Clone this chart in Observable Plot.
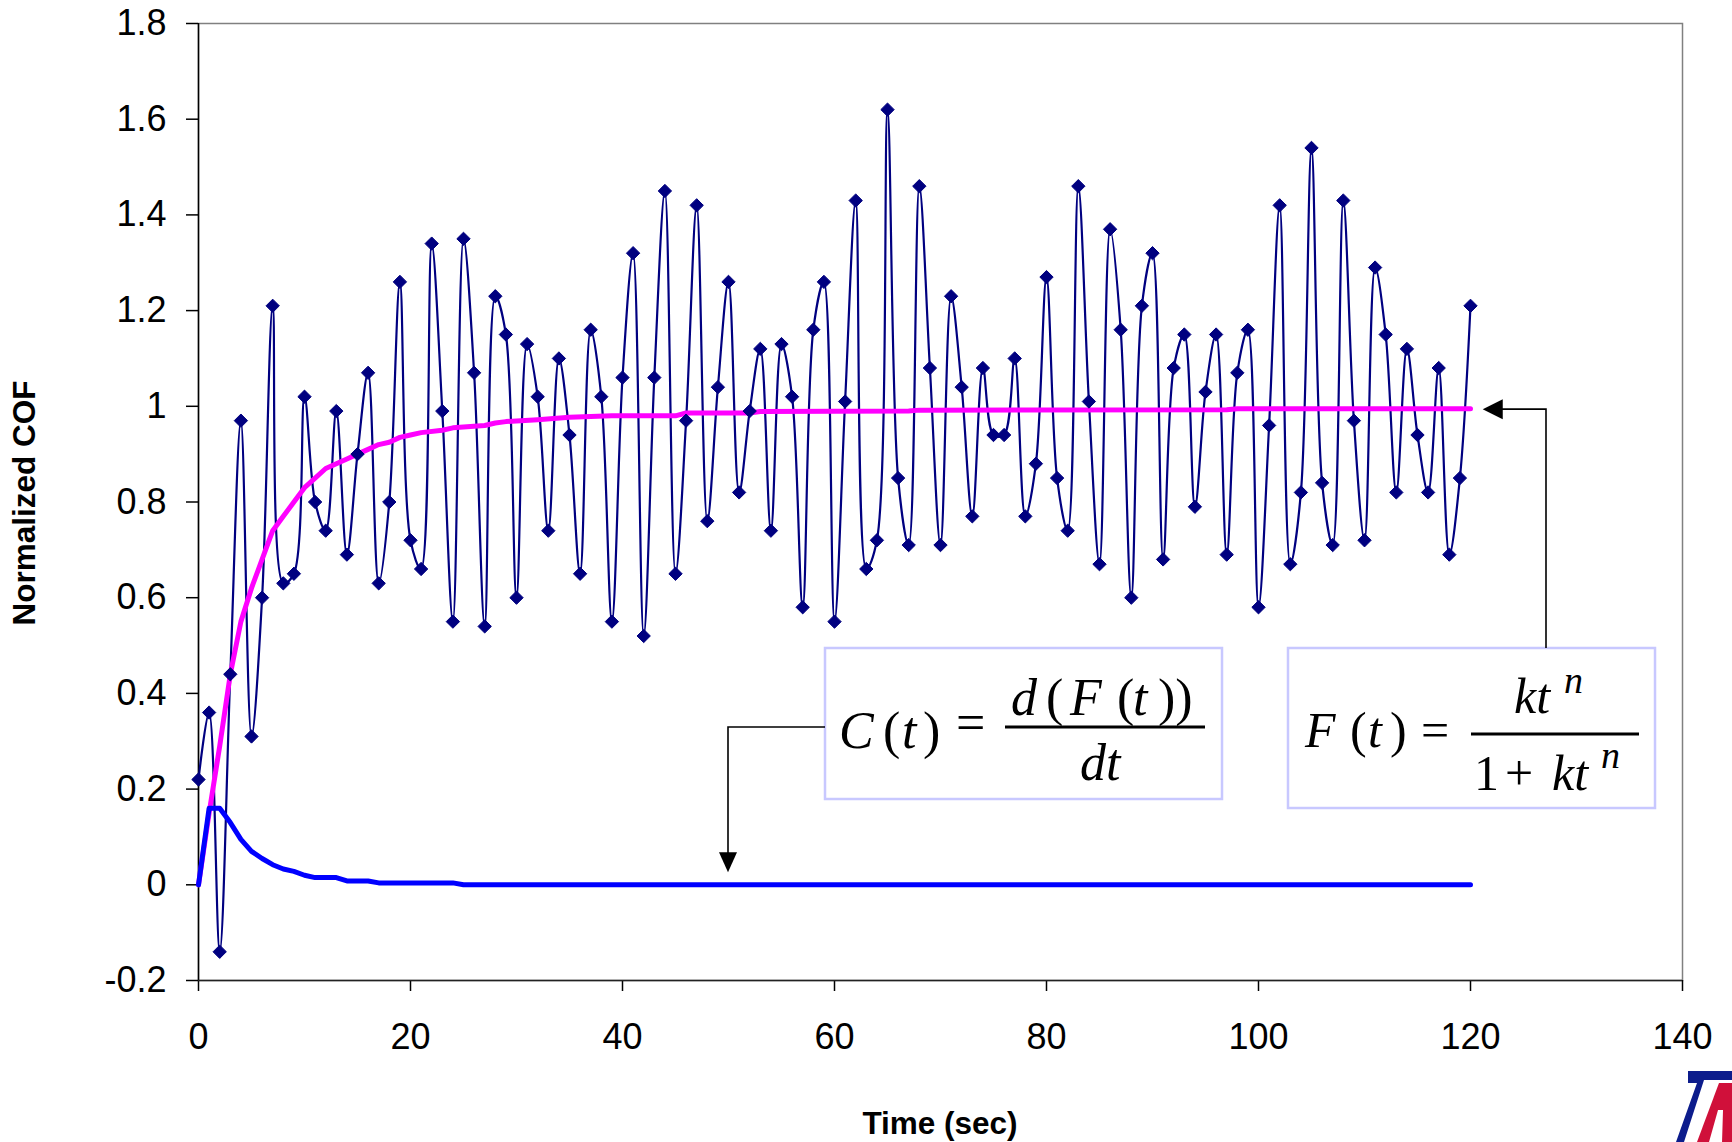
<!DOCTYPE html>
<html><head><meta charset="utf-8">
<script src="https://cdn.jsdelivr.net/npm/d3@7"></script>
<script src="https://cdn.jsdelivr.net/npm/@observablehq/plot@0.6"></script>
<style>body{margin:0;background:#fff;} #chart{width:1732px;height:1142px;}</style>
</head><body><div id="chart"></div>
<script>
// ---- data ----
const cofTime = [0,1,2,3,4,5,6,7,8,9,10,11,12,13,14,15,16,17,18,19,20,21,22,23,24,25,26,27,28,29,30,31,32,33,34,35,36,37,38,39,40,41,42,43,44,45,46,47,48,49,50,51,52,53,54,55,56,57,58,59,60,61,62,63,64,65,66,67,68,69,70,71,72,73,74,75,76,77,78,79,80,81,82,83,84,85,86,87,88,89,90,91,92,93,94,95,96,97,98,99,100,101,102,103,104,105,106,107,108,109,110,111,112,113,114,115,116,117,118,119,120];
const cofValue = [
  0.22,0.36,-0.14,0.44,0.97,0.31,0.60,1.21,0.63,0.65,
  1.02,0.80,0.74,0.99,0.69,0.90,1.07,0.63,0.80,1.26,
  0.72,0.66,1.34,0.99,0.55,1.35,1.07,0.54,1.23,1.15,
  0.60,1.13,1.02,0.74,1.10,0.94,0.65,1.16,1.02,0.55,
  1.06,1.32,0.52,1.06,1.45,0.65,0.97,1.42,0.76,1.04,
  1.26,0.82,0.99,1.12,0.74,1.13,1.02,0.58,1.16,1.26,
  0.55,1.01,1.43,0.66,0.72,1.62,0.85,0.71,1.46,1.08,
  0.71,1.23,1.04,0.77,1.08,0.94,0.94,1.10,0.77,0.88,
  1.27,0.85,0.74,1.46,1.01,0.67,1.37,1.16,0.60,1.21,
  1.32,0.68,1.08,1.15,0.79,1.03,1.15,0.69,1.07,1.16,
  0.58,0.96,1.42,0.67,0.82,1.54,0.84,0.71,1.43,0.97,
  0.72,1.29,1.15,0.82,1.12,0.94,0.82,1.08,0.69,0.85,
  1.21];
const fTime  = [0,1,2,3,4,5,6,7,8,9,10,11,12,13,14,15,16,17,18,19,20,21,23,24,27,28,29,32,35,39,45,46,52,53,67,68,97,98,120];
const fValue = [0,0.15,0.29,0.44,0.55,0.62,0.68,0.74,0.77,0.80,0.83,0.85,0.87,0.88,0.89,0.90,0.91,0.92,0.925,0.935,0.94,0.945,0.95,0.955,0.96,0.965,0.968,0.972,0.977,0.98,0.98,0.986,0.986,0.989,0.99,0.992,0.993,0.995,0.995];
const cTime  = [0,1,2,3,4,5,6,7,8,9,10,11,13,14,16,17,24,25,120];
const cValue = [0,0.16,0.16,0.13,0.095,0.07,0.055,0.042,0.033,0.028,0.02,0.015,0.015,0.008,0.008,0.004,0.004,0,0];
const xTicks = [0,20,40,60,80,100,120,140];
const yTicks = [-0.2,0,0.2,0.4,0.6,0.8,1,1.2,1.4,1.6,1.8];
const xLabel = "Time (sec)";
const yLabel = "Normalized COF";

const cof = cofTime.map((t,i)=>({t, v:cofValue[i]}));
const fit = fTime.map((t,i)=>({t, v:fValue[i]}));
const der = cTime.map((t,i)=>({t, v:cValue[i]}));

const plot = Plot.plot({
  width:1732, height:1142,
  marginLeft:198, marginRight:50, marginTop:23, marginBottom:162,
  x:{domain:[0,140]}, y:{domain:[-0.2,1.8]},
  style:{fontFamily:"'Liberation Sans', Arial, sans-serif", background:"#fff", color:"#000"},
  marks:[
    Plot.frame({stroke:"#808080", strokeWidth:1.5}),
    Plot.axisY({ticks:yTicks, tickSize:12, tickPadding:20, fontSize:36, tickFormat:d=>String(+d.toFixed(1)), label:null, strokeWidth:1.5}),
    Plot.axisX({ticks:xTicks, tickSize:11, tickPadding:32, fontSize:36, label:null, strokeWidth:1.5}),
    Plot.ruleX([0],{stroke:"#000", strokeWidth:1.5}),
    Plot.ruleY([-0.2],{stroke:"#222", strokeWidth:1.5}),
    Plot.line(cof,{x:"t", y:"v", stroke:"#000080", strokeWidth:2.2, curve:"catmull-rom"}),
    Plot.line(fit,{x:"t", y:"v", stroke:"#FF00FF", strokeWidth:5}),
    Plot.line(der,{x:"t", y:"v", stroke:"#0000FF", strokeWidth:5}),
    Plot.dot(cof,{x:"t", y:"v", symbol:"diamond2", r:6, fill:"#000080", stroke:"#000080", strokeWidth:1})
  ]
});
document.getElementById("chart").appendChild(plot);

// ---- titles & annotations ----
const xs = plot.scale("x"), ys = plot.scale("y");
const svg = d3.select(plot);
const titles = svg.append("g").attr("font-family","'Liberation Sans', Arial, sans-serif")
  .attr("font-weight","bold").attr("font-size",31.5).attr("text-anchor","middle").attr("fill","#000");
titles.append("text").attr("transform","translate(24,503) rotate(-90)").attr("y",11).text(yLabel);
titles.append("text").attr("x",(xs.apply(0)+xs.apply(140))/2).attr("y",1134).text(xLabel);

const ann = svg.append("g").attr("text-anchor","start");
const serif = "'Liberation Serif','Times New Roman',serif";
// one <text> per formula line, pieces as tspans: [string, x, upright]
function formulaLine(y, size, pieces) {
  const t = ann.append("text").attr("y",y).attr("font-family",serif).attr("font-size",size).attr("fill","#000");
  for (const [s,x,up] of pieces) {
    t.append("tspan").attr("x",x).attr("font-style",up?"normal":"italic").text(s);
  }
}
// boxes
ann.append("rect").attr("x",825).attr("y",648).attr("width",397).attr("height",151)
  .attr("fill","#fff").attr("stroke","#c8c8ff").attr("stroke-width",2.5);
ann.append("rect").attr("x",1288).attr("y",648).attr("width",367).attr("height",160)
  .attr("fill","#fff").attr("stroke","#c8c8ff").attr("stroke-width",2.5);
// C(t) formula
formulaLine(748, 52, [["C",839],["(",883,true],["t",902],[")",923,true]]);
formulaLine(740, 52, [["=",956,true]]);
formulaLine(715, 52, [["d",1011],["(",1046,true],["F",1070],["(",1117,true],["t",1133],["))",1158,true]]);
ann.append("line").attr("x1",1005).attr("x2",1205).attr("y1",727).attr("y2",727).attr("stroke","#000").attr("stroke-width",3);
formulaLine(780, 52, [["dt",1080]]);
// F(t) formula
formulaLine(747, 50, [["F",1305],["(",1350,true],["t",1368],[")",1390,true],["=",1421,true]]);
formulaLine(713, 50, [["kt",1514]]);
formulaLine(693, 38, [["n",1564]]);
ann.append("line").attr("x1",1471).attr("x2",1639).attr("y1",734).attr("y2",734).attr("stroke","#000").attr("stroke-width",3);
formulaLine(790, 50, [["1",1474,true],["+",1505,true],["kt",1552]]);
formulaLine(768, 38, [["n",1601]]);
// arrows
const ax1 = xs.apply(50), tip1 = ys.apply(0.025);
ann.append("path").attr("d",`M825,727H${ax1}V${tip1-18}`).attr("fill","none").attr("stroke","#000").attr("stroke-width",1.6);
ann.append("path").attr("d",`M${ax1},${tip1}l-9,-20h18z`).attr("fill","#000");
const ay2 = ys.apply(0.993), tip2 = xs.apply(121.2);
ann.append("path").attr("d",`M1546,648V${ay2}H${tip2+18}`).attr("fill","none").attr("stroke","#000").attr("stroke-width",1.6);
ann.append("path").attr("d",`M${tip2},${ay2}l20,-10v20z`).attr("fill","#000");
// logo (partial, bottom-right corner)
ann.append("path").attr("d","M1688,1071H1732V1080H1704L1684,1142H1676L1697,1083H1688Z").attr("fill","#0c1c8c");
ann.append("path").attr("d","M1719,1083H1732V1142H1697Z").attr("fill","#d0103a");
ann.append("path").attr("d","M1718,1110H1723L1722,1142H1709Z").attr("fill","#fff");
</script></body></html>
